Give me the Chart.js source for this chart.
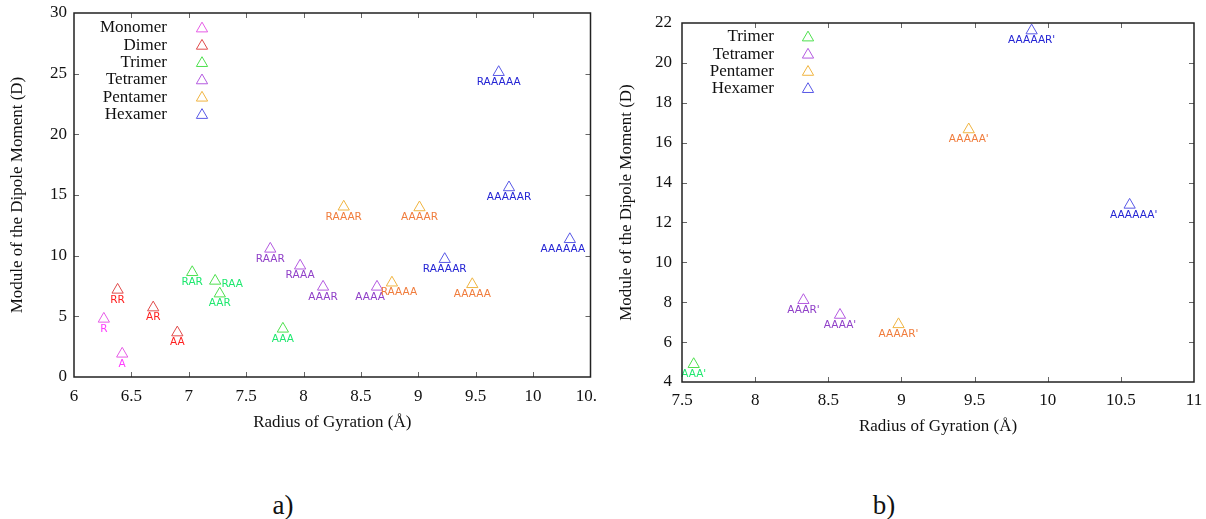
<!DOCTYPE html>
<html><head><meta charset="utf-8">
<script src="https://cdn.jsdelivr.net/npm/chart.js@4.4.1/dist/chart.umd.min.js"></script>
<style>
body{margin:0;background:#fff;width:1206px;height:519px;overflow:hidden;position:relative;font-family:"Liberation Serif",serif;}
canvas{position:absolute;top:0;}
#ca{left:0}
#cb{left:603px}
.sub{position:absolute;font-size:27px;color:#111;transform:translate(-50%,-50%);line-height:1;white-space:nowrap}
</style></head><body>
<canvas id="ca" width="598" height="445"></canvas>
<canvas id="cb" width="603" height="445"></canvas>
<div class="sub" style="left:283px;top:505px">a)</div>
<div class="sub" style="left:884px;top:505px">b)</div>
<script>
// ---------- data: panel a ----------
const monomerRg = [6.26, 6.42];
const monomerMu = [4.79, 1.91];
const monomerTags = ['R', 'A'];
const dimerRg = [6.38, 6.69, 6.90];
const dimerMu = [7.18, 5.72, 3.66];
const dimerTags = ['RR', 'AR', 'AA'];
const trimerRg = [7.03, 7.23, 7.27, 7.82];
const trimerMu = [8.63, 7.92, 6.87, 3.97];
const trimerTags = ['RAR', 'RAA', 'AAR', 'AAA'];
const tetramerRg = [7.71, 7.97, 8.17, 8.64];
const tetramerMu = [10.56, 9.17, 7.43, 7.43];
const tetramerTags = ['RAAR', 'RAAA', 'AAAR', 'AAAA'];
const pentamerRg = [8.35, 9.01, 8.77, 9.47];
const pentamerMu = [14.03, 13.97, 7.77, 7.64];
const pentamerTags = ['RAAAR', 'AAAAR', 'RAAAA', 'AAAAA'];
const hexamerRg = [9.70, 9.79, 9.23, 10.32];
const hexamerMu = [25.12, 15.62, 9.71, 11.35];
const hexamerTags = ['RAAAAA', 'AAAAAR', 'RAAAAR', 'AAAAAA'];

// ---------- data: panel b ----------
const trimerRgB = [7.58];
const trimerMuB = [4.89];
const trimerTagsB = ["AAA'"];
const tetramerRgB = [8.33, 8.58];
const tetramerMuB = [8.10, 7.36];
const tetramerTagsB = ["AAAR'", "AAAA'"];
const pentamerRgB = [8.98, 9.46];
const pentamerMuB = [6.89, 16.66];
const pentamerTagsB = ["AAAAR'", "AAAAA'"];
const hexamerRgB = [9.89, 10.56];
const hexamerMuB = [21.62, 12.88];
const hexamerTagsB = ["AAAAAR'", "AAAAAA'"];

// ---------- ticks ----------
const xTicksA = [6, 6.5, 7, 7.5, 8, 8.5, 9, 9.5, 10, 10.5];
const yTicksA = [0, 5, 10, 15, 20, 25, 30];
const xTicksB = [7.5, 8, 8.5, 9, 9.5, 10, 10.5, 11];
const yTicksB = [4, 6, 8, 10, 12, 14, 16, 18, 20, 22];

const xTitle = 'Radius of Gyration (Å)';
const yTitle = 'Module of the Dipole Moment (D)';

// ---------- styles ----------
const markerColor = {Monomer:'#e65ce6', Dimer:'#e04a4a', Trimer:'#4ee04e', Tetramer:'#b45ae0', Pentamer:'#f0b440', Hexamer:'#5858e6'};
const tagColor = {Monomer:'#ff3cff', Dimer:'#ff1f1f', Trimer:'#1ee86e', Tetramer:'#9040c8', Pentamer:'#f07c3c', Hexamer:'#2424d4'};
const tagShift = {RAA:[17,-7], AAAA:[-7,0], RAAAA:[7,0], AAAAAA:[-7,0], "AAAAAA'":[4,0]};
const R = 6.5;

function ds(name, xs, ys, tags){
  return {
    label: name,
    data: xs.map((x, i) => ({x: x, y: ys[i]})),
    tags: tags,
    tagColor: tagColor[name],
    pointStyle: 'triangle',
    pointRadius: R,
    pointBorderWidth: 1,
    pointBorderColor: markerColor[name],
    pointBackgroundColor: 'rgba(0,0,0,0)',
    showLine: false,
    clip: false
  };
}

function triangle(ctx, x, y, color){
  // visual centre at (x,y), same geometry as Chart.js triangles
  const cy = y + 0.25 * R;
  ctx.beginPath();
  ctx.moveTo(x, cy - R);
  ctx.lineTo(x + 0.866 * R, cy + 0.5 * R);
  ctx.lineTo(x - 0.866 * R, cy + 0.5 * R);
  ctx.closePath();
  ctx.strokeStyle = color; ctx.lineWidth = 1; ctx.stroke();
}

const deco = {
  id: 'deco',
  afterDatasetsDraw(chart){
    const ctx = chart.ctx;
    ctx.save();
    ctx.font = '10.5px "DejaVu Sans"';
    ctx.textAlign = 'center'; ctx.textBaseline = 'middle';
    chart.data.datasets.forEach((d, i) => {
      const meta = chart.getDatasetMeta(i);
      ctx.fillStyle = d.tagColor;
      meta.data.forEach((pt, j) => {
        const tag = d.tags[j];
        const off = tagShift[tag] || [0, 0];
        ctx.fillText(tag, pt.x + off[0], pt.y + 10 + off[1]);
      });
    });
    ctx.restore();
  },
  afterDraw(chart, args, opts){
    const {ctx, chartArea: a, scales} = chart;
    ctx.save();
    ctx.strokeStyle = '#666'; ctx.lineWidth = 1;
    ctx.beginPath();
    scales.x.ticks.forEach(t => {
      const px = Math.round(scales.x.getPixelForValue(t.value)) + 0.5;
      if (px <= a.left + 2 || px >= a.right - 2) return;
      ctx.moveTo(px, a.bottom); ctx.lineTo(px, a.bottom - 5);
      ctx.moveTo(px, a.top); ctx.lineTo(px, a.top + 5);
    });
    scales.y.ticks.forEach(t => {
      const py = Math.round(scales.y.getPixelForValue(t.value)) + 0.5;
      if (py <= a.top + 2 || py >= a.bottom - 2) return;
      ctx.moveTo(a.left, py); ctx.lineTo(a.left + 5, py);
      ctx.moveTo(a.right, py); ctx.lineTo(a.right - 5, py);
    });
    ctx.stroke();
    ctx.strokeStyle = '#222'; ctx.lineWidth = 1.5;
    ctx.strokeRect(a.left, a.top, a.right - a.left, a.bottom - a.top);
    // key
    ctx.font = '17px "Liberation Serif"';
    ctx.textAlign = 'right'; ctx.textBaseline = 'middle'; ctx.fillStyle = '#111';
    chart.data.datasets.forEach((d, i) => {
      const y = opts.keyY + i * opts.keyGap;
      ctx.fillText(d.label, opts.keyRight, y + 1);
      triangle(ctx, opts.keyMarker, y, markerColor[d.label]);
    });
    ctx.restore();
  }
};

function makeChart(id, datasets, cfg){
  return new Chart(document.getElementById(id), {
    type: 'scatter',
    data: {datasets: datasets},
    options: {
      responsive: false, animation: false, events: [],
      devicePixelRatio: 1,
      layout: {padding: {left: 0, top: cfg.padTop, right: cfg.padRight, bottom: 0}},
      plugins: {
        legend: {display: false}, tooltip: {enabled: false},
        deco: {keyY: cfg.keyY, keyGap: cfg.keyGap, keyRight: cfg.keyRight, keyMarker: cfg.keyMarker}
      },
      scales: {
        x: {
          type: 'linear', position: 'bottom', min: cfg.xt[0], max: cfg.xt[cfg.xt.length - 1],
          grid: {display: false, drawTicks: false}, border: {display: false},
          afterBuildTicks: s => { s.ticks = cfg.xt.map(v => ({value: v})); },
          afterFit: s => { s.height = cfg.xH; s.paddingLeft = 0; s.paddingRight = 0; },
          ticks: {padding: cfg.xPad, color: '#111', font: {family: 'Liberation Serif', size: 17}, maxRotation: 0, autoSkip: false, callback: v => String(v)},
          title: {display: true, text: xTitle, color: '#111', font: {family: 'Liberation Serif', size: 17}, padding: {top: 0, bottom: cfg.xTitlePad}}
        },
        y: {
          type: 'linear', position: 'left', min: cfg.yt[0], max: cfg.yt[cfg.yt.length - 1],
          grid: {display: false, drawTicks: false}, border: {display: false},
          afterBuildTicks: s => { s.ticks = cfg.yt.map(v => ({value: v})); },
          afterFit: s => { s.width = cfg.yW; s.paddingTop = 0; s.paddingBottom = 0; },
          ticks: {padding: cfg.yPad, color: '#111', font: {family: 'Liberation Serif', size: 17}, autoSkip: false, callback: v => String(v)},
          title: {display: true, text: yTitle, color: '#111', font: {family: 'Liberation Serif', size: 17}, padding: {top: cfg.yTitlePad, bottom: 0}}
        }
      }
    },
    plugins: [deco]
  });
}

makeChart('ca', [
  ds('Monomer', monomerRg, monomerMu, monomerTags),
  ds('Dimer', dimerRg, dimerMu, dimerTags),
  ds('Trimer', trimerRg, trimerMu, trimerTags),
  ds('Tetramer', tetramerRg, tetramerMu, tetramerTags),
  ds('Pentamer', pentamerRg, pentamerMu, pentamerTags),
  ds('Hexamer', hexamerRg, hexamerMu, hexamerTags)
], {xt: xTicksA, yt: yTicksA, padTop: 13, padRight: 6.5, xH: 68, yW: 74, xPad: 9, yPad: 7, xTitlePad: 12, yTitlePad: 7,
    keyY: 27, keyGap: 17.3, keyRight: 167, keyMarker: 202});

makeChart('cb', [
  ds('Trimer', trimerRgB, trimerMuB, trimerTagsB),
  ds('Tetramer', tetramerRgB, tetramerMuB, tetramerTagsB),
  ds('Pentamer', pentamerRgB, pentamerMuB, pentamerTagsB),
  ds('Hexamer', hexamerRgB, hexamerMuB, hexamerTagsB)
], {xt: xTicksB, yt: yTicksB, padTop: 23, padRight: 12, xH: 63, yW: 79, xPad: 8, yPad: 10, xTitlePad: 8, yTitlePad: 13,
    keyY: 36, keyGap: 17.2, keyRight: 171, keyMarker: 205});
</script>
</body></html>
